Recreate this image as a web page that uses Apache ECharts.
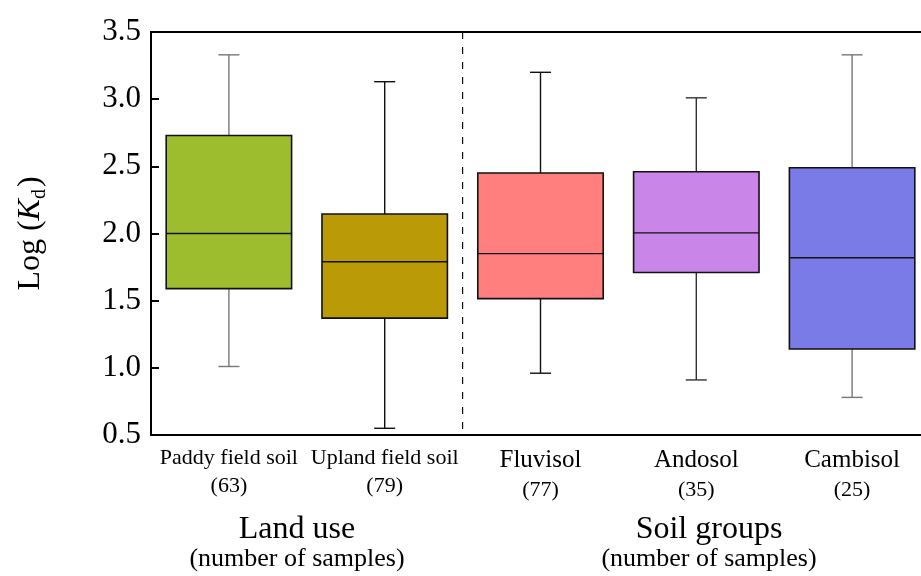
<!DOCTYPE html>
<html>
<head>
<meta charset="utf-8">
<script src="https://cdn.jsdelivr.net/npm/echarts@6/dist/echarts.min.js"></script>
<style>html,body{margin:0;padding:0;background:#fff}#c{width:921px;height:576px}</style>
</head>
<body>
<div id="c"></div>
<script>
// ---- data ----
const categories = ['Paddy field soil', 'Upland field soil', 'Fluvisol', 'Andosol', 'Cambisol'];
const sampleCounts = ['63', '79', '77', '35', '25'];
const groupOf = ['land', 'land', 'soil', 'soil', 'soil'];
const whiskerLow  = [1.01, 0.55, 0.96, 0.91, 0.78];
const quartile1   = [1.59, 1.37, 1.515, 1.71, 1.14];
const medians     = [2.00, 1.79, 1.85, 2.005, 1.82];
const quartile3   = [2.73, 2.145, 2.45, 2.46, 2.49];
const whiskerHigh = [3.33, 3.13, 3.20, 3.01, 3.33];
const yTicks = [0.5, 1.0, 1.5, 2.0, 2.5, 3.0, 3.5];
const dividerAfterIndex = 1; // dashed separator between land use and soil groups

// ---- styles ----
const boxColors = ['#9DBD2F', '#BA9A06', '#FF7F7F', '#C986E8', '#7B7BE8'];
const whiskerColors = ['#777777', '#111111', '#111111', '#333333', '#777777'];
const FONT = '"Liberation Serif", "Times New Roman", serif';

const boxData = categories.map((c, i) => [i, whiskerLow[i], quartile1[i], medians[i], quartile3[i], whiskerHigh[i]]);

const chart = echarts.init(document.getElementById('c'), null, {renderer: 'canvas'});
chart.setOption({
  animation: false,
  backgroundColor: '#fff',
  grid: {left: 151, top: 32, right: -9, bottom: 141, containLabel: false, outerBoundsMode: 'none',
         show: true, borderColor: '#000', borderWidth: 2, backgroundColor: 'transparent'},
  xAxis: {
    type: 'category',
    data: categories,
    boundaryGap: true,
    axisLine: {lineStyle: {color: '#000', width: 2}},
    axisTick: {inside: true, length: 8, lineStyle: {color: '#000', width: 2}},
    splitLine: {show: false},
    axisLabel: {
      margin: 9,
      interval: 0,
      fontFamily: FONT,
      color: '#000',
      formatter: function (v, i) {
        const k = groupOf[i] === 'land' ? 'n' : 'g';
        return '{' + k + '|' + v + '}\n{c|(' + sampleCounts[i] + ')}';
      },
      rich: {
        n: {fontFamily: FONT, fontSize: 22, lineHeight: 28, color: '#000'},
        g: {fontFamily: FONT, fontSize: 25, lineHeight: 32, color: '#000'},
        c: {fontFamily: FONT, fontSize: 22, lineHeight: 28, color: '#000'}
      }
    }
  },
  yAxis: {
    type: 'value',
    min: yTicks[0],
    max: yTicks[yTicks.length - 1],
    interval: 0.5,
    axisLine: {show: true, lineStyle: {color: '#000', width: 2}},
    axisTick: {show: true, inside: true, length: 8, lineStyle: {color: '#000', width: 2}},
    splitLine: {show: false},
    axisLabel: {
      margin: 10,
      fontFamily: FONT,
      fontSize: 31,
      color: '#000',
      formatter: v => v.toFixed(1)
    },
    name: '{a|Log (}{i|K}{s|d}{a|)}',
    nameLocation: 'middle',
    nameGap: 101,
    nameRotate: 90,
    nameTextStyle: {
      fontFamily: FONT,
      rich: {
        a: {fontFamily: FONT, fontSize: 32, lineHeight: 38, color: '#000'},
        i: {fontFamily: FONT, fontSize: 32, lineHeight: 38, fontStyle: 'italic', color: '#000'},
        s: {fontFamily: FONT, fontSize: 20, lineHeight: 38, color: '#000', verticalAlign: 'bottom', padding: [0, 2, 0, 0]}
      }
    }
  },
  series: [
    {
      type: 'custom',
      data: boxData,
      encode: {x: 0, y: [1, 2, 3, 4, 5]},
      clip: false,
      renderItem: function (params, api) {
        const i = api.value(0);
        const lo = api.coord([i, api.value(1)]);
        const q1 = api.coord([i, api.value(2)]);
        const md = api.coord([i, api.value(3)]);
        const q3 = api.coord([i, api.value(4)]);
        const hi = api.coord([i, api.value(5)]);
        const band = api.size([1, 0])[0];
        const bw = band * 0.805;
        const cw = band * 0.135;
        const x = lo[0];
        const wc = whiskerColors[i];
        return {
          type: 'group',
          children: [
            {type: 'line', shape: {x1: x, y1: hi[1], x2: x, y2: q3[1]}, style: {stroke: wc, lineWidth: 1.4}},
            {type: 'line', shape: {x1: x, y1: q1[1], x2: x, y2: lo[1]}, style: {stroke: wc, lineWidth: 1.4}},
            {type: 'line', shape: {x1: x - cw / 2, y1: hi[1], x2: x + cw / 2, y2: hi[1]}, style: {stroke: wc, lineWidth: 1.4}},
            {type: 'line', shape: {x1: x - cw / 2, y1: lo[1], x2: x + cw / 2, y2: lo[1]}, style: {stroke: wc, lineWidth: 1.4}},
            {type: 'rect', shape: {x: x - bw / 2, y: q3[1], width: bw, height: q1[1] - q3[1]}, style: {fill: boxColors[i], stroke: '#111', lineWidth: 1.6}},
            {type: 'line', shape: {x1: x - bw / 2, y1: md[1], x2: x + bw / 2, y2: md[1]}, style: {stroke: '#111', lineWidth: 1.4}}
          ]
        };
      }
    },
    {
      type: 'custom',
      data: [[dividerAfterIndex]],
      encode: {x: 0},
      clip: false,
      silent: true,
      renderItem: function (params, api) {
        const i = api.value(0);
        const band = api.size([1, 0])[0];
        const top = api.coord([i, yTicks[yTicks.length - 1]]);
        const bot = api.coord([i, yTicks[0]]);
        const x = top[0] + band / 2;
        return {type: 'line', shape: {x1: x, y1: top[1], x2: x, y2: bot[1]}, style: {stroke: '#111', lineWidth: 1.2, lineDash: [7, 8]}};
      }
    }
  ],
  graphic: [
    {type: 'text', x: 297, y: 530, style: {text: 'Land use', font: '32px ' + FONT, fill: '#000', align: 'center', verticalAlign: 'middle'}},
    {type: 'text', x: 297, y: 559, style: {text: '(number of samples)', font: '26px ' + FONT, fill: '#000', align: 'center', verticalAlign: 'middle'}},
    {type: 'text', x: 709, y: 530, style: {text: 'Soil groups', font: '32px ' + FONT, fill: '#000', align: 'center', verticalAlign: 'middle'}},
    {type: 'text', x: 709, y: 559, style: {text: '(number of samples)', font: '26px ' + FONT, fill: '#000', align: 'center', verticalAlign: 'middle'}}
  ]
});
</script>
</body>
</html>
